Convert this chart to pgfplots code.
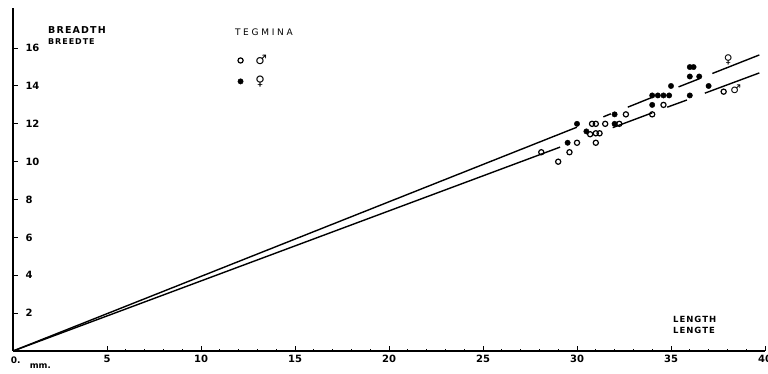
\documentclass[border=0pt]{standalone}
\usepackage{pgfplots}
\pgfplotsset{compat=1.18}
\usepackage{fontspec}
\setmainfont{DejaVu Sans}
\newfontfamily\spaced[LetterSpace=12]{DejaVu Sans}
\newfontfamily\wide[LetterSpace=30]{DejaVu Sans}
\begin{document}
\begin{tikzpicture}
\useasboundingbox (-13pt,-23pt) rectangle (755pt,351pt);
\begin{axis}[
  at={(0,0)}, anchor=origin,
  x=18.8pt, y=18.93pt,
  xmin=0, xmax=40, ymin=0, ymax=18.1,
  axis x line=bottom, axis y line=left,
  axis line style={-, line width=1.5pt},
  tick align=inside,
  xtick={5,10,...,40},
  ytick={2,4,...,16},
  minor x tick num=4, minor y tick num=3,
  major tick length=5pt, minor tick length=1.5pt,
  tick style={line width=1pt, black},
  /pgf/number format/assume math mode=true,
  tick label style={font=\fontsize{10}{12}\selectfont\bfseries},
  yticklabel style={anchor=west, xshift=9pt},
  xticklabel style={yshift=-1pt},
  clip=false,
  legend style={at={(axis cs:11.95,15.75)}, anchor=north west, draw=none, fill=none,
    font=\fontsize{13}{15}\selectfont\bfseries, row sep=6pt, inner sep=0pt},
  legend cell align=left,
]
% male (open circles)
\addplot[only marks, mark=o, mark size=2.6pt, line width=1.2pt, black] coordinates {
 (28.1,10.5) (29.0,10.0) (29.6,10.5) (30.0,11.0) (31.0,11.0)
 (30.7,11.45) (31.0,11.5) (31.2,11.5)
 (30.8,12.0) (31.0,12.0) (31.5,12.0) (32.25,12.0)
 (32.6,12.5) (34.0,12.5) (34.6,13.0) (37.8,13.7)
};
\addlegendentry{\hspace{10pt}♂}
% female (filled circles)
\addplot[only marks, mark=*, mark size=2.7pt, black] coordinates {
 (29.5,11.0) (30.5,11.6) (30.0,12.0) (32.0,12.0) (32.0,12.5)
 (34.0,13.0) (34.0,13.5) (34.3,13.5) (34.6,13.5) (34.9,13.5)
 (35.0,14.0) (36.0,13.5) (36.0,14.5) (36.5,14.5)
 (36.0,15.0) (36.2,15.0) (37.0,14.0)
};
\addlegendentry{\hspace{10pt}♀}
% upper line (female)
\addplot[black, line width=1.4pt, forget plot] coordinates {(0,0) (29.99,11.82)};
\addplot[black, line width=1.4pt, forget plot] coordinates {(31.4,12.37) (31.8,12.53)};
\addplot[black, line width=1.4pt, forget plot] coordinates {(32.7,12.88) (34.0,13.40)};
\addplot[black, line width=1.4pt, forget plot] coordinates {(35.4,13.95) (36.5,14.38)};
\addplot[black, line width=1.4pt, forget plot] coordinates {(37.2,14.66) (39.7,15.64)};
% lower line (male)
\addplot[black, line width=1.4pt, forget plot] coordinates {(0,0) (29.1,10.77)};
\addplot[black, line width=1.4pt, forget plot] coordinates {(31.9,11.80) (34.0,12.58)};
\addplot[black, line width=1.4pt, forget plot] coordinates {(34.8,12.88) (35.85,13.26)};
\addplot[black, line width=1.4pt, forget plot] coordinates {(36.8,13.62) (39.7,14.69)};
% texts
\node[anchor=west, inner sep=0pt, font=\fontsize{9.5}{11}\selectfont\bfseries\spaced] at (axis cs:1.86,16.96) {BREADTH};
\node[anchor=west, inner sep=0pt, font=\fontsize{8}{10}\selectfont\bfseries\spaced] at (axis cs:1.86,16.32) {BREEDTE};
\node[anchor=west, inner sep=0pt, font=\fontsize{9}{11}\selectfont\wide] at (axis cs:11.8,16.85) {TEGMINA};
\node[anchor=west, inner sep=0pt, font=\fontsize{8.5}{10}\selectfont\bfseries\spaced] at (axis cs:35.1,1.69) {LENGTH};
\node[anchor=west, inner sep=0pt, font=\fontsize{8.5}{10}\selectfont\bfseries\spaced] at (axis cs:35.1,1.08) {LENGTE};
\node[anchor=center, inner sep=0pt, font=\fontsize{12}{14}\selectfont\bfseries] at (axis cs:38.05,15.37) {♀};
\node[anchor=center, inner sep=0pt, font=\fontsize{12}{14}\selectfont\bfseries] at (axis cs:38.45,13.84) {♂};
\node[anchor=center, inner sep=0pt, font=\fontsize{9}{11}\selectfont\bfseries] at (axis cs:0.15,-0.5) {0.};
\node[anchor=center, inner sep=0pt, font=\fontsize{8.5}{10}\selectfont\bfseries] at (axis cs:1.45,-0.8) {mm.};
\end{axis}
\end{tikzpicture}
\end{document}
